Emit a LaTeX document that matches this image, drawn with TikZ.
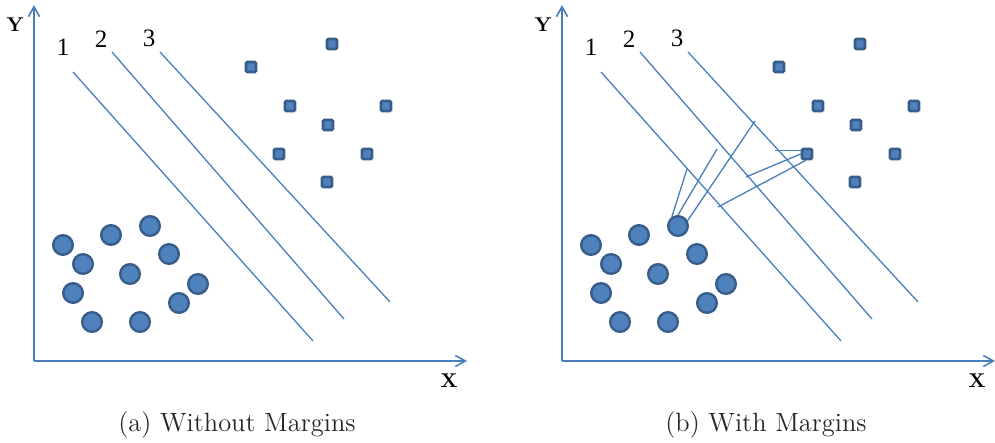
\documentclass[tikz,border=0pt]{standalone}
\usepackage{fontspec}
\newfontfamily\digitfont{Liberation Serif}
\usetikzlibrary{arrows.meta}
\definecolor{ptfill}{HTML}{4F81BD}
\definecolor{ptedge}{HTML}{385D8A}
\definecolor{axcol}{HTML}{4A7EBB}
\begin{document}
\begin{tikzpicture}[x=0.5pt,y=-0.5pt]
        \tikzstyle{dot}=[circle, draw=ptedge, fill=ptfill, line width=1.2pt, minimum size=9.8pt, inner sep=0pt]
        \tikzstyle{box}=[rectangle, draw=ptedge, fill=ptfill, line width=1.3pt, minimum size=5pt, inner sep=0pt, rounded corners=0.6pt]
        \tikzstyle{axis}=[axcol, line width=0.8pt, -{Straight Barb[length=5pt,width=5.5pt]}]
        \tikzstyle{sep}=[axcol, line width=0.65pt]
        \tikzstyle{num}=[font=\digitfont\fontsize{12.5}{14}\selectfont, inner sep=0pt]
        \tikzstyle{axlab}=[font=\fontsize{10}{12}\selectfont\bfseries, inner sep=0pt]
        \tikzstyle{captext}=[font=\fontsize{13.2}{16}\selectfont, text=black!85, inner sep=0pt]

        \useasboundingbox (0,0) rectangle (995,443);

        \foreach \p/\dx in {a/0, b/528} {
        \begin{scope}[shift={(\dx,0)}]
            % axes
            \coordinate (o\p) at (34,361);
            \coordinate (y\p) at (34,5);
            \coordinate (x\p) at (467,361);
            \draw[axis] (o\p) -- (y\p);
            \draw[axis] (o\p) -- (x\p);
            \node[axlab] (ly\p) at (15,25) {Y};
            \node[axlab] (lx\p) at (449,381) {X};

            % separating lines
            \coordinate (s1\p) at (73,72);  \coordinate (t1\p) at (313,341);
            \coordinate (s2\p) at (112,52); \coordinate (t2\p) at (344,319);
            \coordinate (s3\p) at (160,52); \coordinate (t3\p) at (390,302);
            \foreach \j in {1,2,3}
                \draw[sep] (s\j\p) -- (t\j\p);
            \node[num] (n1\p) at (63,47) {1};
            \node[num] (n2\p) at (101,39) {2};
            \node[num] (n3\p) at (149,38) {3};

            % class one
            \foreach \i/\cx/\cy in {1/332/44, 2/251/67, 3/290/106, 4/386/106,
                                    5/328/125, 6/279/154, 7/367/154, 8/327/182}
                \node[box] (k\i\p) at (\cx,\cy) {};

            % class two
            \foreach \i/\cx/\cy in {1/63/245, 2/111/235, 3/150/226, 4/83/264,
                                    5/169/254, 6/130/274, 7/73/293, 8/198/284,
                                    9/179/303, 10/92/322, 11/140/322}
                \node[dot] (c\i\p) at (\cx,\cy) {};
        \end{scope}
        }

        % margins
        \coordinate (m1) at (687,169);
        \coordinate (m2) at (717,149);
        \coordinate (m3) at (755,121);
        \coordinate (m4) at (775,149);
        \coordinate (m5) at (746,177);
        \coordinate (m6) at (718,207);
        \draw[sep] (c3b.124) -- (m1);
        \draw[sep] (c3b.90) -- (m2);
        \draw[sep] (c3b.29) -- (m3);
        \draw[sep] (k6b.150) -- (m4 |- k6b.150);
        \draw[sep] (k6b.west) -- (m5);
        \draw[sep] (k6b.260) -- (m6);

        \node[captext] (capa) at (237,425) {(a) Without Margins};
        \node[captext] (capb) at (766,425) {(b) With Margins};
    \end{tikzpicture}
\end{document}
